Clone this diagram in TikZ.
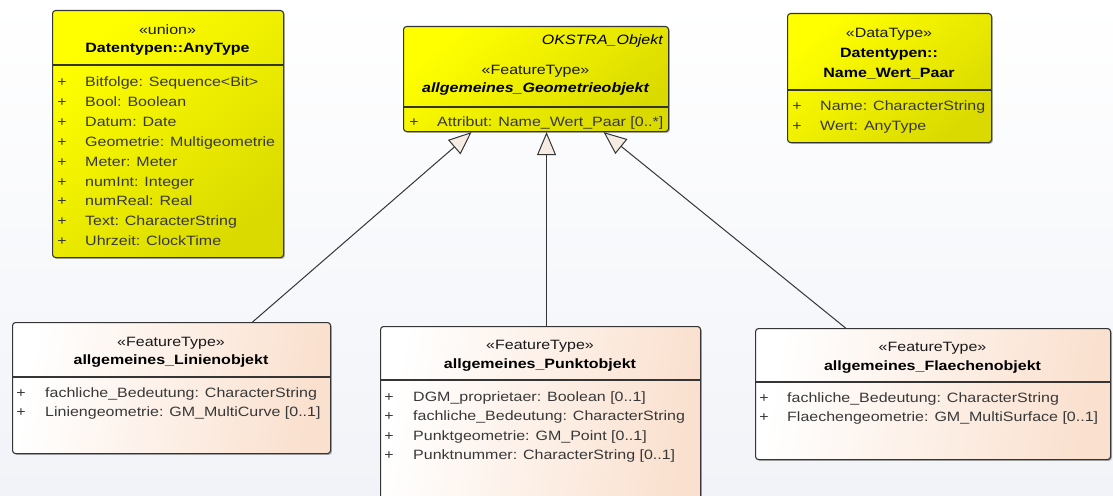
\documentclass[tikz,border=0pt]{standalone}
\usepackage{fontspec}
\setmainfont{Liberation Sans}[FakeStretch=1.185]
\usetikzlibrary{arrows.meta,shadows}

\definecolor{ybright}{HTML}{FFFF00}
\definecolor{ydark}{HTML}{DADA00}
\definecolor{peach}{HTML}{FAE0CE}
\definecolor{framecol}{HTML}{353535}
\definecolor{attrcol}{HTML}{383838}
\definecolor{bgbottom}{HTML}{F1F3F8}
\definecolor{tipfill}{HTML}{F6ECE3}

\tikzset{
  txt/.style={inner sep=0pt, font=\fontsize{13.5}{15}\selectfont},
  classbox/.style={draw=framecol, line width=1.1pt, rounded corners=3pt,
    anchor=north west, inner sep=0pt,
    drop shadow={shadow xshift=1.3pt, shadow yshift=-1.3pt, opacity=0.3, fill=black}},
  yellowbox/.style={classbox, top color=ybright, bottom color=ydark, shading angle=40},
  peachbox/.style={classbox, left color=white, right color=peach, shading angle=80},
  sepline/.style={draw=framecol, line width=1.1pt},
  stereo/.style={txt, anchor=base, text=black!90},
  cname/.style={txt, anchor=base, text=black, font=\fontsize{13.5}{15}\selectfont\bfseries},
  attr/.style={txt, anchor=base west, text=attrcol},
  plus/.style={txt, anchor=base, text=attrcol},
  genline/.style={draw=framecol, line width=1pt,
    -{Triangle[length=23pt, width=19pt, fill=tipfill]}},
}

\begin{document}
\begin{tikzpicture}[x=1pt, y=-1pt]
\useasboundingbox (0,0) rectangle (1113,495);
\clip (0,0) rectangle (1113,495);
\shade[top color=white, bottom color=bgbottom] (0,0) rectangle (1113,495);

% ---- Datentypen::AnyType ----
\node[yellowbox, minimum width=231pt, minimum height=247pt] (any) at (52,10) {};
\node[stereo] (any-st) at (167.5,34.5) {«union»};
\node[cname] (any-nm) at (167.5,52.5) {Datentypen::AnyType};
\draw[sepline] (52,65) -- (283,65);
\foreach \t [count=\i from 0] in {Bitfolge: Sequence<Bit>, Bool: Boolean, Datum: Date,
    Geometrie: Multigeometrie, Meter: Meter, numInt: Integer, numReal: Real,
    Text: CharacterString, Uhrzeit: ClockTime}{
  \node[plus] (any-p\i) at (62,86.5+19.9*\i) {+};
  \node[attr] (any-a\i) at (85,86.5+19.9*\i) {\t};
}

% ---- allgemeines_Geometrieobjekt ----
\node[yellowbox, minimum width=265pt, minimum height=105pt] (geo) at (403,26) {};
\node[txt, anchor=base east, font=\fontsize{13.5}{15}\selectfont\itshape] (geo-pk) at (663,44.5) {OKSTRA\_Objekt};
\node[stereo] (geo-st) at (535.5,74.5) {«FeatureType»};
\node[cname, font=\fontsize{13.5}{15}\selectfont\bfseries\itshape] (geo-nm) at (535.5,92.5) {allgemeines\_Geometrieobjekt};
\draw[sepline] (403,107) -- (668,107);
\node[plus] (geo-p0) at (414,126.5) {+};
\node[attr] (geo-a0) at (437,126.5) {Attribut: Name\_Wert\_Paar [0..*]};

% ---- Datentypen::Name_Wert_Paar ----
\node[yellowbox, minimum width=204pt, minimum height=129pt] (nwp) at (787,13) {};
\node[stereo] (nwp-st) at (889,37.5) {«DataType»};
\node[cname] (nwp-nm1) at (889,57.5) {Datentypen::};
\node[cname] (nwp-nm2) at (889,77.5) {Name\_Wert\_Paar};
\draw[sepline] (787,90) -- (991,90);
\foreach \t [count=\i from 0] in {Name: CharacterString, Wert: AnyType}{
  \node[plus] (nwp-p\i) at (797,110.5+20*\i) {+};
  \node[attr] (nwp-a\i) at (820,110.5+20*\i) {\t};
}

% ---- allgemeines_Linienobjekt ----
\node[peachbox, minimum width=318pt, minimum height=131pt] (lin) at (12,322) {};
\node[stereo] (lin-st) at (171,346.5) {«FeatureType»};
\node[cname] (lin-nm) at (171,364.5) {allgemeines\_Linienobjekt};
\draw[sepline] (12,377) -- (330,377);
\foreach \t [count=\i from 0] in {fachliche\_Bedeutung: CharacterString,
    Liniengeometrie: GM\_MultiCurve [0..1]}{
  \node[plus] (lin-p\i) at (21,397.5+19*\i) {+};
  \node[attr] (lin-a\i) at (45,397.5+19*\i) {\t};
}

% ---- allgemeines_Punktobjekt ----
\node[peachbox, minimum width=320pt, minimum height=190pt] (pkt) at (380,326) {};
\node[stereo] (pkt-st) at (540,349.5) {«FeatureType»};
\node[cname] (pkt-nm) at (540,368.5) {allgemeines\_Punktobjekt};
\draw[sepline] (380,380) -- (700,380);
\foreach \t [count=\i from 0] in {DGM\_proprietaer: Boolean [0..1],
    fachliche\_Bedeutung: CharacterString, Punktgeometrie: GM\_Point [0..1],
    Punktnummer: CharacterString [0..1]}{
  \node[plus] (pkt-p\i) at (389,401.5+19.3*\i) {+};
  \node[attr] (pkt-a\i) at (413,401.5+19.3*\i) {\t};
}

% ---- allgemeines_Flaechenobjekt ----
\node[peachbox, minimum width=355pt, minimum height=131pt] (fl) at (755,328) {};
\node[stereo] (fl-st) at (932.5,351.5) {«FeatureType»};
\node[cname] (fl-nm) at (932.5,370.5) {allgemeines\_Flaechenobjekt};
\draw[sepline] (755,382) -- (1110,382);
\foreach \t [count=\i from 0] in {fachliche\_Bedeutung: CharacterString,
    Flaechengeometrie: GM\_MultiSurface [0..1]}{
  \node[plus] (fl-p\i) at (764,402.5+19*\i) {+};
  \node[attr] (fl-a\i) at (787,402.5+19*\i) {\t};
}

% ---- generalisations ----
\draw[genline] ([xshift=81pt]lin.north) -- ([xshift=-64.5pt]geo.south);
\draw[genline] ([xshift=6pt]pkt.north) -- ([xshift=10.5pt]geo.south);
\draw[genline] ([xshift=-87.5pt]fl.north) -- ([xshift=67.5pt]geo.south);
\end{tikzpicture}
\end{document}
